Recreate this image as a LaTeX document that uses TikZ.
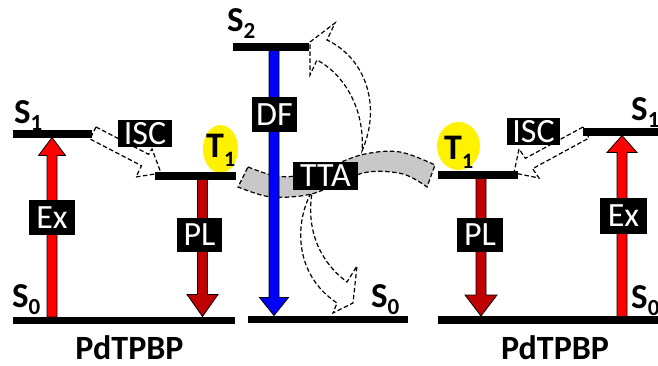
\documentclass[tikz,border=0pt]{standalone}
\usepackage{fontspec}
\setmainfont{Carlito}
\definecolor{exred}{HTML}{FF0000}
\definecolor{pldark}{HTML}{C00000}
\definecolor{dfblue}{HTML}{0000FF}
\definecolor{ttagray}{HTML}{C8C8C8}
% vertical block arrow: colour, x, tail y, tip y, head half-width, signed head length
\newcommand\vfat[6]{%
  \filldraw[fill=#1, draw=black, line width=0.8pt]
    ({#2-5},{#3}) -- ({#2-5},{#4+(#6)}) -- ({#2-(#5)},{#4+(#6)}) -- ({#2},{#4})
    -- ({#2+(#5)},{#4+(#6)}) -- ({#2+5},{#4+(#6)}) -- ({#2+5},{#3}) -- cycle;}
\newcommand\lsub[1]{\raisebox{-7pt}{\fontsize{23}{23}\selectfont #1}}
\newcommand\tsub[1]{\raisebox{-9pt}{\fontsize{22}{22}\selectfont #1}}
\begin{document}
\begin{tikzpicture}[x=1pt,y=-1pt,
  bar/.style={fill=black, inner sep=0pt, minimum height=7.5pt},
  tag/.style={fill=black, text=white, inner sep=0pt, font=\fontsize{34}{34}\selectfont},
  lvl/.style={anchor=base west, inner sep=0pt, font=\bfseries\fontsize{35}{35}\selectfont},
  tlvl/.style={anchor=base west, inner sep=0pt, font=\bfseries\fontsize{36}{36}\selectfont},
  hollow/.style={draw=black, fill=white, line width=1.2pt, dash pattern=on 4.5pt off 2.5pt, line join=miter},
  band/.style={draw=black, fill=ttagray, line width=1.2pt, dash pattern=on 4.5pt off 2.5pt, line join=miter},
  molname/.style={anchor=base, inner sep=0pt, font=\bfseries\fontsize{34}{34}\selectfont}]
\useasboundingbox (0,0) rectangle (658,366);

% triplet highlights
\fill[yellow] (220.5,149) ellipse [x radius=17.5, y radius=24];
\fill[yellow] (458.5,146) ellipse [x radius=21.5, y radius=24];

% upconversion: curved hollow arrows from the TTA pair
\filldraw[hollow] (310,42) -- (335,23) -- (327,40)
  .. controls (365,58) and (382,105) .. (362,151)
  .. controls (365,110) and (345,75) .. (317,60)
  -- (310,75) -- cycle;
\filldraw[hollow] (311,193) .. controls (294,225) and (295,275) .. (337,303)
  -- (333,313) -- (353,303) -- (357,266) -- (347,282)
  .. controls (320,262) and (306,230) .. (312,193) -- cycle;

% triplet-triplet annihilation band
\filldraw[band] plot[smooth, tension=0.6] coordinates {(248,167) (272,175) (295,176) (330,166) (365,154) (400,152) (435,165)}
  -- plot[smooth, tension=0.6] coordinates {(427,187) (403,174) (368,172) (338,183) (315,193) (290,197) (265,196) (238,187)}
  -- cycle;

% intersystem crossing arrows
\filldraw[hollow] (96,127) -- (148.6,154.3) -- (152,149) -- (161,173) -- (136,177) -- (141.5,165.7) -- (90,139) -- cycle;
\filldraw[hollow] (583,127) -- (525.4,158.3) -- (519,149) -- (514,173) -- (539,178) -- (532.6,168.7) -- (589,138) -- cycle;

% energy levels
\node[bar, minimum width=79pt]  (S1L) at (52.5,134) {};
\node[bar, minimum width=81pt]  (T1L) at (195.5,176) {};
\node[bar, minimum width=222pt] (S0L) at (124,320.5) {};
\node[bar, minimum width=76pt]  (S2)  at (271,47) {};
\node[bar, minimum width=160pt] (S0M) at (328,319.5) {};
\node[bar, minimum width=80pt]  (T1R) at (478,175) {};
\node[bar, minimum width=78pt]  (S1R) at (622,132) {};
\node[bar, minimum width=222pt] (S0R) at (549,320) {};

% radiative and excitation arrows
\vfat{exred}{52}{317}{137.5}{13.5}{18}
\vfat{exred}{622}{316.5}{135.5}{15}{17}
\vfat{pldark}{202.5}{179.5}{316.5}{15.5}{-22}
\vfat{pldark}{481}{178.5}{316}{16}{-21}
\vfat{dfblue}{274}{50.5}{315.5}{14.5}{-18}

% process labels
\node[tag, minimum width=46pt, minimum height=35pt] (ExL)  at (52,217.5) {Ex};
\node[tag, minimum width=47pt, minimum height=36pt] (ExR)  at (623.5,216) {Ex};
\node[tag, minimum width=45pt, minimum height=34pt] (PLL)  at (199.5,235) {PL};
\node[tag, minimum width=46pt, minimum height=34pt] (PLR)  at (480,235) {PL};
\node[tag, minimum width=45pt, minimum height=35pt] (DF)   at (274.5,114.5) {DF};
\node[tag, minimum width=54pt, minimum height=27pt] (ISCL) at (145,133.5) {ISC};
\node[tag, minimum width=53pt, minimum height=27pt] (ISCR) at (533.5,131.5) {ISC};
\node[tag, minimum width=65pt, minimum height=28pt] (TTA)  at (325.5,176) {TTA};

% state labels
\node[lvl] (lS1L) at (14,124) {S\lsub{1}};
\node[lvl] (lS0L) at (12,307) {S\lsub{0}};
\node[lvl] (lS2)  at (227,32) {S\lsub{2}};
\node[lvl] (lS0M) at (371,307) {S\lsub{0}};
\node[lvl] (lS1R) at (631,121) {S\lsub{1}};
\node[lvl] (lS0R) at (631,308) {S\lsub{0}};
\node[tlvl] (lT1L) at (206,158) {T\tsub{1}};
\node[tlvl] (lT1R) at (444,160) {T\tsub{1}};

% sensitizer names
\node[molname] (molL) at (129.5,359) {PdTPBP};
\node[molname] (molR) at (555,359) {PdTPBP};
\end{tikzpicture}
\end{document}
